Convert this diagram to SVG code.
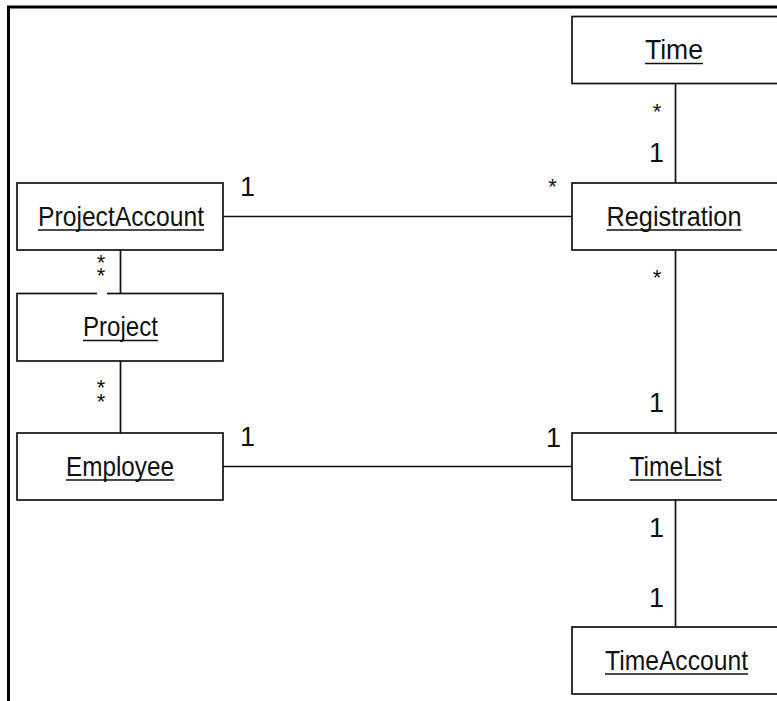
<svg xmlns="http://www.w3.org/2000/svg" width="777" height="701" viewBox="0 0 777 701">
  <style>
    .box { fill: #fff; stroke: #111; stroke-width: 1.7; }
    text { font-family: 'Liberation Sans', Arial, sans-serif; fill: #111; }
    .name { font-size: 28px; text-anchor: middle; }
    .ul { stroke: #111; stroke-width: 1.7; }
    .conn line { stroke: #111; stroke-width: 1.7; }
    .mult { font-size: 27px; }
    .star { font-size: 22px; text-anchor: middle; }
    .frame { stroke: #000; stroke-width: 3; fill: none; }
  </style>
  <rect width="777" height="701" fill="#fff"/>

  <!-- outer frame (top and left edges) -->
  <polyline class="frame" points="8.5,701 8.5,7 777,7"/>

  <!-- associations -->
  <g id="connectors" class="conn">
    <line x1="223" y1="216.5" x2="572" y2="216.5"/>
    <line x1="223" y1="466.5" x2="572" y2="466.5"/>
    <line x1="120.5" y1="250" x2="120.5" y2="293.5"/>
    <line x1="120.5" y1="361" x2="120.5" y2="433"/>
    <line x1="675.5" y1="83.5" x2="675.5" y2="183"/>
    <line x1="675.5" y1="250" x2="675.5" y2="433"/>
    <line x1="675.5" y1="500" x2="675.5" y2="627"/>
  </g>

  <!-- classes -->
  <g id="time">
    <rect class="box" x="572" y="16.5" width="220" height="67"/>
    <text class="name" x="674" y="59" textLength="58" lengthAdjust="spacingAndGlyphs">Time</text>
    <line class="ul" x1="645" y1="63.5" x2="703" y2="63.5"/>
  </g>
  <g id="registration">
    <rect class="box" x="572" y="183" width="220" height="67"/>
    <text class="name" x="674" y="225.5" textLength="135" lengthAdjust="spacingAndGlyphs">Registration</text>
    <line class="ul" x1="606.5" y1="230" x2="741.5" y2="230"/>
  </g>
  <g id="timelist">
    <rect class="box" x="572" y="433" width="220" height="67"/>
    <text class="name" x="675.5" y="475.5" textLength="92" lengthAdjust="spacingAndGlyphs">TimeList</text>
    <line class="ul" x1="629.5" y1="480" x2="721.5" y2="480"/>
  </g>
  <g id="timeaccount">
    <rect class="box" x="572" y="627" width="220" height="67"/>
    <text class="name" x="676.5" y="669.5" textLength="143" lengthAdjust="spacingAndGlyphs">TimeAccount</text>
    <line class="ul" x1="605" y1="674" x2="748" y2="674"/>
  </g>
  <g id="projectaccount">
    <rect class="box" x="17" y="183" width="206" height="67"/>
    <text class="name" x="121" y="225.5" textLength="166" lengthAdjust="spacingAndGlyphs">ProjectAccount</text>
    <line class="ul" x1="38" y1="230" x2="204" y2="230"/>
  </g>
  <g id="project">
    <rect class="box" x="17" y="293.5" width="206" height="67.5"/>
    <text class="name" x="120.5" y="336" textLength="75" lengthAdjust="spacingAndGlyphs">Project</text>
    <line class="ul" x1="83" y1="340.5" x2="158" y2="340.5"/>
    <rect x="97" y="292" width="10" height="3" fill="#fff"/>
  </g>
  <g id="employee">
    <rect class="box" x="17" y="433" width="206" height="67"/>
    <text class="name" x="120" y="475.5" textLength="108" lengthAdjust="spacingAndGlyphs">Employee</text>
    <line class="ul" x1="66" y1="480" x2="174" y2="480"/>
  </g>

  <!-- multiplicities -->
  <g id="multiplicities">
    <text class="mult" x="240" y="196">1</text>
    <text class="star" x="552.5" y="194">*</text>
    <text class="star" x="657" y="119">*</text>
    <text class="mult" x="649" y="162">1</text>
    <text class="star" x="657" y="285">*</text>
    <text class="mult" x="649" y="412">1</text>
    <text class="mult" x="240" y="446">1</text>
    <text class="mult" x="546" y="447">1</text>
    <text class="mult" x="649" y="537">1</text>
    <text class="mult" x="649" y="607">1</text>
    <text class="star" x="101" y="270">*<tspan x="101" dy="13">*</tspan></text>
    <text class="star" x="101" y="395">*<tspan x="101" dy="14">*</tspan></text>
  </g>
</svg>
